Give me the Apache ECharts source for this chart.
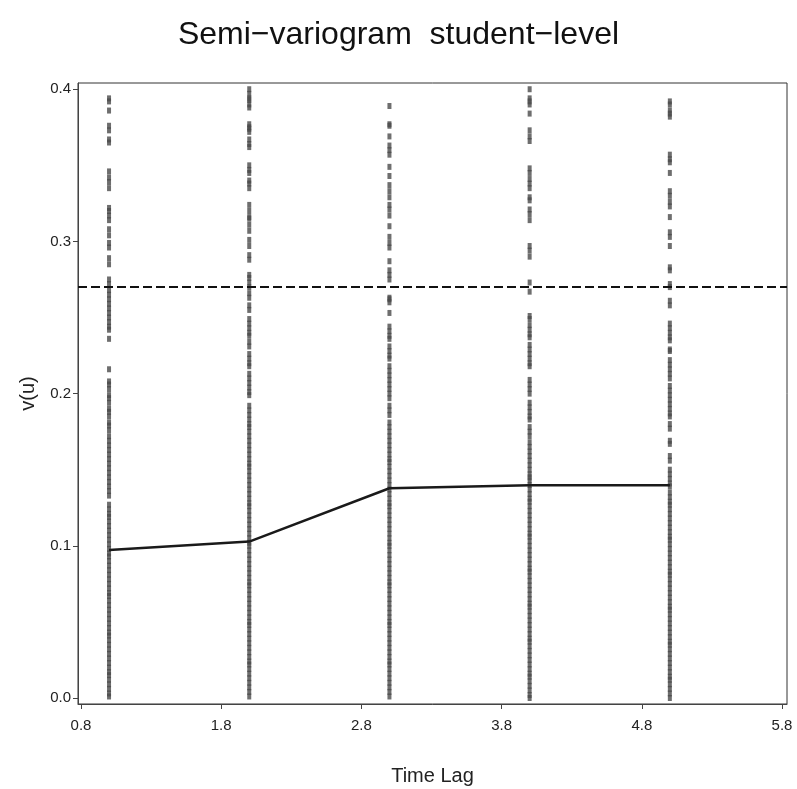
<!DOCTYPE html>
<html>
<head>
<meta charset="utf-8">
<script src="https://cdn.jsdelivr.net/npm/echarts@6/dist/echarts.min.js"></script>
<style>
  html, body { margin: 0; padding: 0; background: #fff; }
  #chart { width: 797px; height: 789px; }
</style>
</head>
<body>
<div id="chart"></div>
<script>
// Time lags at which the sample semi-variogram is evaluated
const lags = [1, 2, 3, 4, 5];

// Smoothed semi-variogram v(u) at each lag
const semivariogram = [0.0973, 0.1028, 0.1378, 0.1398, 0.1398];

// Estimated total process variance (horizontal reference)
const processVariance = 0.269;

// Half squared differences of student residual pairs, grouped by lag
const pairsLag1 = [
  0.394, 0.392, 0.386, 0.376, 0.373, 0.367, 0.365, 0.346, 0.342, 0.339, 0.335,
  0.322, 0.320, 0.317, 0.314, 0.308, 0.304, 0.299, 0.296, 0.289, 0.285, 0.275,
  0.272, 0.268, 0.265, 0.262, 0.259, 0.256, 0.253, 0.250, 0.247, 0.244, 0.242,
  0.236, 0.216, 0.208, 0.206, 0.203, 0.199, 0.197, 0.194, 0.190, 0.188, 0.185,
  0.181, 0.179, 0.176, 0.172, 0.169, 0.166, 0.163, 0.160, 0.157, 0.154, 0.151,
  0.148, 0.145, 0.142, 0.139, 0.136, 0.133, 0.127, 0.124, 0.121, 0.119, 0.116,
  0.113, 0.110, 0.107, 0.104, 0.101, 0.098, 0.095, 0.093, 0.090, 0.087, 0.084,
  0.081, 0.078, 0.075, 0.072, 0.069, 0.067, 0.064, 0.061, 0.058, 0.055, 0.052,
  0.049, 0.046, 0.043, 0.041, 0.038, 0.035, 0.032, 0.029, 0.026, 0.023, 0.020,
  0.017, 0.015, 0.012, 0.009, 0.006, 0.003, 0.001
];
const pairsLag2 = [
  0.400, 0.397, 0.394, 0.393, 0.390, 0.388, 0.377, 0.375, 0.374, 0.372, 0.367,
  0.364, 0.362, 0.350, 0.347, 0.345, 0.340, 0.338, 0.335, 0.324, 0.320, 0.316,
  0.315, 0.311, 0.307, 0.301, 0.297, 0.291, 0.288, 0.278, 0.276, 0.273, 0.270,
  0.266, 0.263, 0.258, 0.255, 0.249, 0.246, 0.243, 0.240, 0.238, 0.234, 0.231,
  0.226, 0.223, 0.220, 0.218, 0.213, 0.210, 0.207, 0.204, 0.201, 0.199, 0.192,
  0.189, 0.186, 0.183, 0.180, 0.178, 0.175, 0.172, 0.169, 0.166, 0.163, 0.160,
  0.157, 0.154, 0.152, 0.149, 0.146, 0.143, 0.140, 0.137, 0.134, 0.131, 0.128,
  0.126, 0.123, 0.120, 0.117, 0.114, 0.111, 0.108, 0.105, 0.102, 0.100, 0.097,
  0.094, 0.091, 0.088, 0.085, 0.082, 0.079, 0.076, 0.074, 0.071, 0.068, 0.065,
  0.062, 0.059, 0.056, 0.053, 0.050, 0.048, 0.045, 0.042, 0.039, 0.036, 0.033,
  0.030, 0.027, 0.024, 0.022, 0.019, 0.016, 0.013, 0.010, 0.007, 0.004, 0.001
];
const pairsLag3 = [
  0.389, 0.377, 0.376, 0.369, 0.363, 0.360, 0.357, 0.349, 0.343, 0.337, 0.333,
  0.329, 0.324, 0.321, 0.317, 0.310, 0.303, 0.299, 0.296, 0.287, 0.281, 0.278,
  0.275, 0.263, 0.262, 0.260, 0.253, 0.244, 0.241, 0.238, 0.236, 0.231, 0.228,
  0.225, 0.223, 0.218, 0.215, 0.212, 0.209, 0.206, 0.203, 0.200, 0.197, 0.192,
  0.189, 0.186, 0.181, 0.178, 0.175, 0.172, 0.169, 0.166, 0.163, 0.160, 0.157,
  0.155, 0.152, 0.149, 0.146, 0.143, 0.140, 0.137, 0.134, 0.131, 0.128, 0.126,
  0.123, 0.120, 0.117, 0.114, 0.111, 0.108, 0.105, 0.102, 0.100, 0.097, 0.094,
  0.091, 0.088, 0.085, 0.082, 0.079, 0.076, 0.074, 0.071, 0.068, 0.065, 0.062,
  0.059, 0.056, 0.053, 0.050, 0.048, 0.045, 0.042, 0.039, 0.036, 0.033, 0.030,
  0.027, 0.024, 0.022, 0.019, 0.016, 0.013, 0.010, 0.007, 0.004, 0.001
];
const pairsLag4 = [
  0.400, 0.394, 0.392, 0.390, 0.384, 0.373, 0.369, 0.366, 0.348, 0.345, 0.341,
  0.338, 0.335, 0.329, 0.327, 0.321, 0.318, 0.314, 0.297, 0.294, 0.290, 0.273,
  0.267, 0.251, 0.249, 0.245, 0.242, 0.239, 0.237, 0.232, 0.229, 0.226, 0.223,
  0.220, 0.218, 0.209, 0.206, 0.203, 0.200, 0.194, 0.191, 0.188, 0.185, 0.183,
  0.178, 0.175, 0.172, 0.168, 0.165, 0.162, 0.159, 0.156, 0.153, 0.150, 0.147,
  0.145, 0.143, 0.140, 0.137, 0.134, 0.131, 0.129, 0.126, 0.123, 0.120, 0.117,
  0.114, 0.111, 0.108, 0.106, 0.103, 0.100, 0.097, 0.094, 0.091, 0.088, 0.085,
  0.083, 0.080, 0.077, 0.074, 0.071, 0.068, 0.065, 0.062, 0.060, 0.057, 0.054,
  0.051, 0.048, 0.045, 0.042, 0.039, 0.037, 0.034, 0.031, 0.028, 0.025, 0.022,
  0.019, 0.016, 0.014, 0.011, 0.008, 0.005, 0.002, 0.000
];
const pairsLag5 = [
  0.392, 0.390, 0.386, 0.384, 0.382, 0.357, 0.354, 0.352, 0.345, 0.333, 0.330,
  0.326, 0.323, 0.316, 0.306, 0.303, 0.297, 0.283, 0.281, 0.272, 0.270, 0.261,
  0.258, 0.246, 0.243, 0.240, 0.237, 0.235, 0.229, 0.228, 0.222, 0.219, 0.216,
  0.213, 0.210, 0.205, 0.202, 0.199, 0.196, 0.193, 0.190, 0.187, 0.185, 0.180,
  0.177, 0.169, 0.167, 0.159, 0.156, 0.150, 0.147, 0.144, 0.141, 0.139, 0.135,
  0.132, 0.129, 0.127, 0.124, 0.121, 0.118, 0.115, 0.112, 0.109, 0.106, 0.104,
  0.101, 0.098, 0.095, 0.092, 0.089, 0.086, 0.083, 0.081, 0.078, 0.075, 0.072,
  0.069, 0.066, 0.063, 0.060, 0.058, 0.055, 0.052, 0.049, 0.046, 0.043, 0.040,
  0.037, 0.035, 0.032, 0.029, 0.026, 0.023, 0.020, 0.017, 0.014, 0.012, 0.009,
  0.006, 0.003, 0.000
];

// Axis tick labels
const xTicks = [0.8, 1.8, 2.8, 3.8, 4.8, 5.8];
const yTicks = [0.0, 0.1, 0.2, 0.3, 0.4];

const pairGroups = [pairsLag1, pairsLag2, pairsLag3, pairsLag4, pairsLag5];
const pairPoints = [];
pairGroups.forEach((vals, i) => {
  vals.forEach(v => pairPoints.push([lags[i], v]));
});

const FONT = 'Liberation Sans, Arial, Helvetica, sans-serif';
const AXIS_COLOR = '#444';

const chart = echarts.init(document.getElementById('chart'), null, { renderer: 'canvas' });

chart.setOption({
  backgroundColor: '#ffffff',
  animation: false,
  title: {
    text: 'Semi\u2212variogram  student\u2212level',
    left: 'center',
    top: 14,
    textStyle: { fontFamily: FONT, fontSize: 32, fontWeight: 'normal', color: '#111' }
  },
  grid: {
    left: 78, top: 83, width: 709, height: 621,
    outerBoundsMode: 'none',
    containLabel: false,
    show: true, borderColor: '#333', borderWidth: 1, backgroundColor: 'transparent'
  },
  xAxis: {
    type: 'value',
    min: 0.7786, max: 5.8356,
    name: 'Time Lag',
    nameLocation: 'middle',
    nameGap: 62,
    nameTextStyle: { fontFamily: FONT, fontSize: 20, color: '#222' },
    splitLine: { show: false },
    axisLine: { show: true, onZero: false, lineStyle: { color: AXIS_COLOR, width: 1 } },
    axisTick: { show: true, length: 5, customValues: xTicks, lineStyle: { color: AXIS_COLOR } },
    axisLabel: {
      customValues: xTicks,
      formatter: v => v.toFixed(1),
      margin: 14,
      fontFamily: FONT, fontSize: 15, color: '#222'
    }
  },
  yAxis: {
    type: 'value',
    min: -0.00394, max: 0.4041,
    name: 'v(u)',
    nameLocation: 'middle',
    nameGap: 40,
    nameRotate: 90,
    nameTextStyle: { fontFamily: FONT, fontSize: 20, color: '#222' },
    splitLine: { show: false },
    axisLine: { show: true, onZero: false, lineStyle: { color: AXIS_COLOR, width: 1 } },
    axisTick: { show: true, length: 5, customValues: yTicks, lineStyle: { color: AXIS_COLOR } },
    axisLabel: {
      customValues: yTicks,
      formatter: v => v.toFixed(1),
      margin: 7,
      fontFamily: FONT, fontSize: 15, color: '#222'
    }
  },
  series: [
    {
      name: 'pairs',
      type: 'scatter',
      data: pairPoints,
      symbol: 'rect',
      symbolSize: [4, 6],
      itemStyle: { color: '#4a4a4a' },
      silent: true,
      z: 2,
      markLine: {
        silent: true,
        symbol: ['none', 'none'],
        label: { show: false },
        lineStyle: { color: '#111', width: 2, type: [9, 4] },
        data: [{ yAxis: processVariance }]
      }
    },
    {
      name: 'variogram',
      type: 'line',
      data: lags.map((x, i) => [x, semivariogram[i]]),
      showSymbol: false,
      lineStyle: { color: '#1a1a1a', width: 2.5 },
      silent: true,
      z: 5
    }
  ]
});
</script>
</body>
</html>
